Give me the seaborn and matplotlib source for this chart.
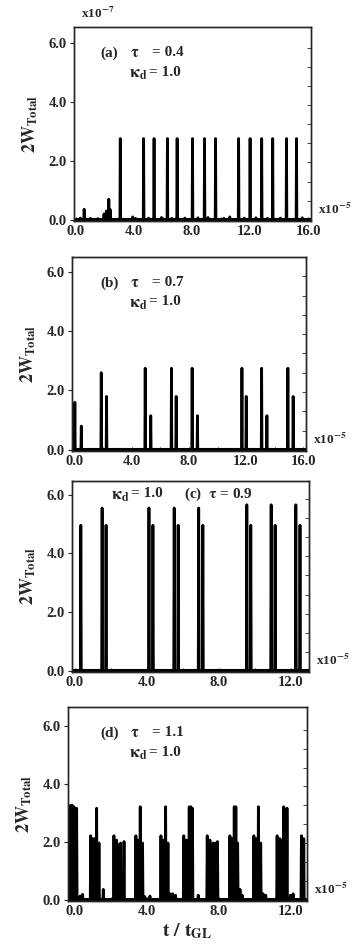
import numpy as np
import pandas as pd
import matplotlib
matplotlib.use("Agg")
import matplotlib.pyplot as plt
import seaborn as sns

# spike times (x10^-5 t/t_GL) and heights (2W_Total)
a_spike_t = [0.56, 1.93, 2.09, 2.26, 2.35, 3.05, 3.9, 4.66, 5.38, 6.30, 6.97, 8.03, 8.86,
             9.62, 10.6, 11.21, 12.0, 12.8, 13.56, 14.51, 15.2]
a_spike_h = [0.36, 0.2, 0.3, 0.7, 0.35, 2.76, 0.1, 2.76, 2.76, 2.76, 2.76, 2.76, 2.76,
             2.76, 0.1, 2.76, 2.76, 2.76, 2.76, 2.76, 2.76]
a_noise_t = [0.3, 1.0, 1.5, 4.1, 5.0, 5.9, 6.6, 7.5, 8.4, 9.1, 10.2, 11.6, 12.4, 13.2, 14.1, 15.6]
a_noise_h = [0.06, 0.05, 0.04, 0.05, 0.06, 0.08, 0.05, 0.06, 0.07, 0.08, 0.05, 0.06, 0.07, 0.05, 0.06, 0.07]

b_spike_t = [0.0, 0.45, 1.85, 2.22, 4.93, 5.32, 6.77, 7.10, 8.22, 8.59, 11.71, 12.01,
             13.09, 13.46, 14.93, 15.30]
b_spike_h = [1.6, 0.8, 2.6, 1.8, 2.75, 1.15, 2.75, 1.8, 2.75, 1.15, 2.75, 1.8,
             2.75, 1.15, 2.75, 1.8]

c_spike_t = [0.34, 1.52, 1.74, 4.12, 4.34, 5.52, 5.74, 6.88, 7.11, 9.55, 9.77,
             10.9, 11.12, 12.27, 12.5]
c_spike_h = [4.96, 5.55, 4.96, 5.55, 4.96, 5.55, 4.96, 5.55, 4.96, 5.66, 4.96,
             5.66, 4.96, 5.66, 4.96]

d_spike_t = [-0.22, -0.13, -0.04, 0.11, 0.30, 0.44,
             0.89, 1.0, 1.11, 1.22, 1.35, 1.59,
             2.18, 2.33, 2.44, 2.55, 2.74,
             3.40, 3.53, 3.64, 3.77, 3.90, 4.18,
             4.79, 4.92, 5.05, 5.18, 5.29, 5.44, 5.60,
             6.06, 6.21, 6.36, 6.45, 6.54, 6.86,
             7.36, 7.51, 7.69, 7.82, 7.93,
             8.62, 8.76, 8.86, 8.95, 9.05, 9.18, 9.30,
             9.95, 10.09, 10.20, 10.33, 10.46, 10.61,
             11.24, 11.39, 11.50, 11.61, 11.79, 11.98, 12.13,
             12.59, 12.72]
d_spike_h = [3.25, 3.25, 3.2, 3.15, 0.12, 0.18,
             2.2, 2.1, 2.1, 3.15, 1.95, 0.35,
             2.2, 2.05, 1.9, 1.95, 2.0,
             2.2, 2.05, 3.2, 1.95, 0.1, 0.12,
             2.2, 2.05, 3.2, 1.95, 0.2, 0.2, 0.15,
             2.2, 2.05, 3.2, 3.2, 3.15, 0.15,
             2.2, 2.05, 1.95, 1.95, 2.0,
             2.2, 2.1, 3.2, 3.2, 1.95, 0.35, 0.15,
             2.2, 2.1, 3.2, 1.95, 0.2, 0.15,
             2.2, 2.1, 2.05, 3.2, 3.15, 0.15, 0.2,
             2.2, 2.1]

panel_tags = ["(a)", "(b)", "(c)", "(d)"]
tau_values = ["0.4", "0.7", "0.9", "1.1"]
kappa_d = "1.0"
x_ticks = [[0, 4, 8, 12, 16], [0, 4, 8, 12, 16], [0, 4, 8, 12], [0, 4, 8, 12]]
y_ticks = [0, 2, 4, 6]


def spike_frame(ts, hs, x0, x1, half=0.025):
    pts = [(x0, 0.0)]
    for tt, hh in sorted(zip(ts, hs)):
        pts += [(tt - half, 0.0), (tt, hh), (tt + half, 0.0)]
    pts.append((x1, 0.0))
    return pd.DataFrame(pts, columns=["t", "W"])


sns.set_style("ticks")
plt.rcParams["font.family"] = ["Liberation Serif", "DejaVu Serif"]
plt.rcParams["font.weight"] = "bold"
plt.rcParams["mathtext.fontset"] = "stix"

fig = plt.figure(figsize=(3.55, 9.5), dpi=100)

# axes rectangles in pixels: left, right, top, bottom
boxes = [(74, 311, 27, 221), (72, 306, 257, 451), (72, 309, 481, 672), (68, 307, 707, 901)]
xlims = [(-0.14, 16.2), (-0.2, 16.2), (-0.15, 13.0), (-0.37, 12.9)]
ylims = [(-0.04, 6.55), (-0.04, 6.5), (-0.04, 6.47), (-0.05, 6.64)]
spikes = [(a_spike_t + a_noise_t, a_spike_h + a_noise_h), (b_spike_t, b_spike_h),
          (c_spike_t, c_spike_h), (d_spike_t, d_spike_h)]

for i, (l, r, t, b) in enumerate(boxes):
    ax = fig.add_axes([l / 355, 1 - b / 950, (r - l) / 355, (b - t) / 950])
    df = spike_frame(spikes[i][0], spikes[i][1], *xlims[i])
    sns.lineplot(data=df, x="t", y="W", ax=ax, estimator=None, sort=False,
                 color="black", lw=2.0)
    ax.axhline(0.02, color="black", lw=2.0 if i == 3 else 1.5)
    ax.set_xlim(*xlims[i])
    ax.set_ylim(*ylims[i])
    ax.set_xticks(x_ticks[i])
    ax.set_xticklabels([f"{v:.1f}" for v in x_ticks[i]], fontsize=10.5, fontweight="bold")
    ax.set_xticks(np.arange(2, xlims[i][1], 4), minor=True)
    ax.set_yticks(y_ticks)
    ax.set_yticklabels([f"{v:.1f}" for v in y_ticks], fontsize=10.5, fontweight="bold")
    ax.tick_params(axis="x", which="both", direction="in", length=3, width=0.8, pad=3)
    ax.tick_params(axis="y", direction="out", length=3, width=0.8, pad=2)
    ax2 = ax.twinx()
    ax2.set_ylim(*ylims[i])
    ax2.set_yticks(np.arange(0.65, 6.4, 0.65))
    ax2.set_yticklabels([])
    ax2.tick_params(axis="y", direction="in", length=3, width=0.6)
    for sp in list(ax.spines.values()) + list(ax2.spines.values()):
        sp.set_linewidth(1.0)
        sp.set_visible(True)
    ax.set_xlabel("")
    ax.set_ylabel(r"$\mathbf{2W_{Total}}$", fontsize=13, labelpad=6)
    ax.text(1.03, 0.02, r"x10$^{\mathbf{-5}}$", transform=ax.transAxes,
            fontsize=9.5, fontweight="bold", va="bottom")

    w = r - l
    h = b - t
    if i != 2:
        ax.text((100 - l) / w, 1 - 26 / h, panel_tags[i], transform=ax.transAxes,
                fontsize=11, fontweight="bold", va="center")
        ax.text((130 - l) / w, 1 - 26 / h, r"$\mathbf{\tau}$", transform=ax.transAxes,
                fontsize=11.5, va="center")
        ax.text((152 - l) / w, 1 - 26 / h, "= " + tau_values[i], transform=ax.transAxes,
                fontsize=11, fontweight="bold", va="center")
        ax.text((129 - l) / w, 1 - 47 / h, r"$\mathbf{\kappa_d}$", transform=ax.transAxes,
                fontsize=12.5, va="center")
        ax.text((149 - l) / w, 1 - 45 / h, "= " + kappa_d, transform=ax.transAxes,
                fontsize=11, fontweight="bold", va="center")
    else:
        ax.text((111 - l) / w, 1 - 15 / h, r"$\mathbf{\kappa_d}$", transform=ax.transAxes,
                fontsize=12.5, va="center")
        ax.text((131 - l) / w, 1 - 13 / h, "= " + kappa_d, transform=ax.transAxes,
                fontsize=11, fontweight="bold", va="center")
        ax.text((184 - l) / w, 1 - 13 / h, panel_tags[i] + r"  $\mathbf{\tau}$ = " + tau_values[i],
                transform=ax.transAxes, fontsize=11, fontweight="bold", va="center")
    if i == 0:
        ax.text(0.03, 1.03, r"x10$^{\mathbf{-7}}$", transform=ax.transAxes,
                fontsize=9.5, fontweight="bold", va="bottom")
    if i == 3:
        ax.set_xlabel(r"$\mathbf{t\ /\ t_{GL}}$", fontsize=14, labelpad=2)

fig.savefig("out.png", dpi=100)
